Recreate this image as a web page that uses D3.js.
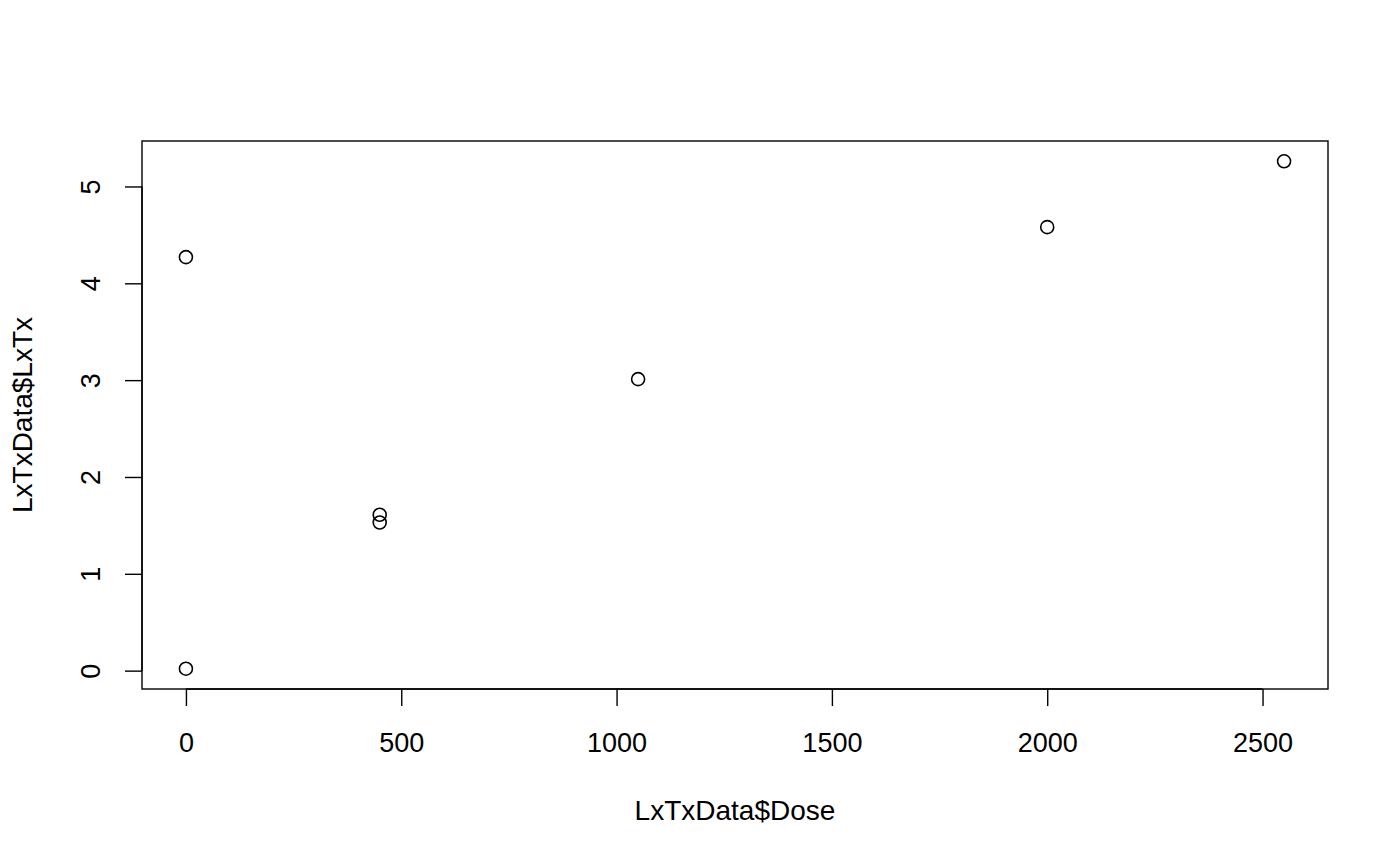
<!DOCTYPE html>
<html>
<head>
<meta charset="utf-8">
<script src="https://cdn.jsdelivr.net/npm/d3@7"></script>
<style>
  body { margin: 0; background: #fff; }
  text { font-family: "Liberation Sans", Arial, Helvetica, sans-serif; }
</style>
</head>
<body>
<div id="chart"></div>
<script>
// values
var dose = [0, 0, 450, 450, 1050, 2000, 2550];
var lxtx = [4.27, 0.02, 1.61, 1.53, 3.01, 4.58, 5.26];
var xTicks = [0, 500, 1000, 1500, 2000, 2500];
var yTicks = [0, 1, 2, 3, 4, 5];

var width = 1400, height = 865;
var box = {left: 142, right: 1328, top: 141, bottom: 689};

var svg = d3.select("#chart").append("svg")
    .attr("width", width)
    .attr("height", height);

// R style 4% extension of the data range
var xr = d3.extent(dose), yr = d3.extent(lxtx);
var xpad = (xr[1] - xr[0]) * 0.04, ypad = (yr[1] - yr[0]) * 0.04;

var x = d3.scaleLinear()
    .domain([xr[0] - xpad, xr[1] + xpad])
    .range([box.left, box.right]);

var y = d3.scaleLinear()
    .domain([yr[0] - ypad, yr[1] + ypad])
    .range([box.bottom, box.top]);

svg.append("rect")
    .attr("x", box.left)
    .attr("y", box.top)
    .attr("width", box.right - box.left)
    .attr("height", box.bottom - box.top)
    .style("fill", "none")
    .style("stroke", "#000")
    .style("stroke-width", 1.4);

// x axis
var xAxis = d3.axisBottom(x).tickValues(xTicks).tickSize(17).tickFormat(d3.format("d"));
var gx = svg.append("g")
    .attr("transform", "translate(0," + box.bottom + ")")
    .call(xAxis);
gx.select(".domain")
    .attr("d", "M" + x(xTicks[0]) + ",0H" + x(xTicks[xTicks.length - 1]));
gx.selectAll(".tick text")
    .attr("y", 63)
    .attr("dy", "0");

// y axis
var yAxis = d3.axisLeft(y).tickValues(yTicks).tickSize(17).tickFormat(d3.format("d"));
var gy = svg.append("g")
    .attr("transform", "translate(" + box.left + ",0)")
    .call(yAxis);
gy.select(".domain")
    .attr("d", "M0," + y(yTicks[0]) + "V" + y(yTicks[yTicks.length - 1]));
gy.selectAll(".tick text")
    .attr("transform", "rotate(-90,-42,0)")
    .attr("x", -42)
    .attr("y", 0)
    .attr("dy", "0")
    .style("text-anchor", "middle");

svg.selectAll(".domain, .tick line")
    .style("stroke", "#000")
    .style("stroke-width", 1.4);
svg.selectAll(".tick text")
    .style("font-size", "27px")
    .style("fill", "#000")
    .style("font-family", "'Liberation Sans', Arial, sans-serif");

// axis titles
svg.append("text")
    .attr("x", (box.left + box.right) / 2)
    .attr("y", 820)
    .style("text-anchor", "middle")
    .style("font-size", "28px")
    .text("LxTxData$Dose");

svg.append("text")
    .attr("transform", "translate(32," + ((box.top + box.bottom) / 2) + ") rotate(-90)")
    .style("text-anchor", "middle")
    .style("font-size", "28px")
    .text("LxTxData$LxTx");

// points
svg.append("g")
  .selectAll("circle")
    .data(dose)
  .enter().append("circle")
    .attr("cx", function(d) { return x(d); })
    .attr("cy", function(d, i) { return y(lxtx[i]); })
    .attr("r", 6.5)
    .style("fill", "none")
    .style("stroke", "#000")
    .style("stroke-width", 1.6);
</script>
</body>
</html>
